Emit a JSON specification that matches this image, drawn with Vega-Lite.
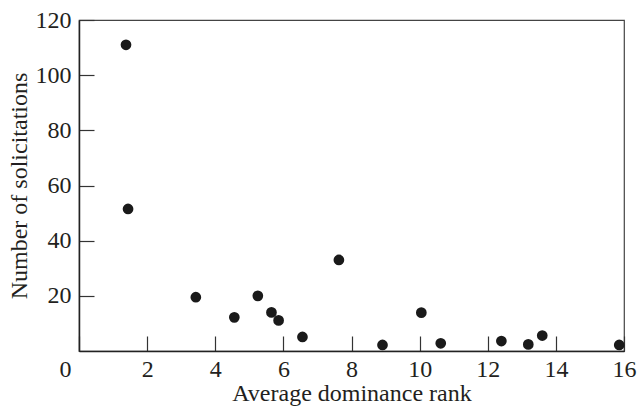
{
  "$schema": "https://vega.github.io/schema/vega-lite/v6.json",
  "autosize": "none",
  "padding": {"left": 79, "top": 20, "right": 14, "bottom": 58},
  "width": 545,
  "height": 331,
  "background": "white",
  "config": {
    "view": {"stroke": "#444", "strokeWidth": 1.2},
    "font": "Liberation Serif"
  },
  "data": {
    "values": [
      {"rank": 1.38, "solicitations": 111},
      {"rank": 1.44, "solicitations": 51.5},
      {"rank": 3.43, "solicitations": 19.5},
      {"rank": 4.56, "solicitations": 12.2},
      {"rank": 5.25, "solicitations": 20.0},
      {"rank": 5.65, "solicitations": 14.0},
      {"rank": 5.86, "solicitations": 11.1},
      {"rank": 6.56, "solicitations": 5.1},
      {"rank": 7.63, "solicitations": 33.0},
      {"rank": 8.91, "solicitations": 2.2},
      {"rank": 10.05, "solicitations": 13.9},
      {"rank": 10.62, "solicitations": 2.8},
      {"rank": 12.4, "solicitations": 3.6},
      {"rank": 13.19, "solicitations": 2.4},
      {"rank": 13.6, "solicitations": 5.6},
      {"rank": 15.86, "solicitations": 2.2}
    ]
  },
  "mark": {"type": "point", "filled": true, "shape": "circle", "size": 115, "color": "#1a1a1a", "opacity": 1},
  "encoding": {
    "x": {
      "field": "rank",
      "type": "quantitative",
      "scale": {"domain": [0, 16], "nice": false, "zero": false},
      "axis": {
        "title": "Average dominance rank",
        "values": [0, 2, 4, 6, 8, 10, 12, 14, 16],
        "grid": false,
        "domainColor": "#222",
        "domainWidth": 1.5,
        "tickColor": "#333",
        "tickWidth": 1.2,
        "tickSize": -15,
        "labelFlush": false,
        "labelPadding": 21,
        "labelFontSize": 24,
        "labelColor": "#231f20",
        "labelOffset": {"condition": {"test": "datum.value == 0", "value": -14}, "value": 0},
        "titleFontSize": 24,
        "titleFontWeight": "normal",
        "titleColor": "#231f20",
        "titlePadding": 0
      }
    },
    "y": {
      "field": "solicitations",
      "type": "quantitative",
      "scale": {"domain": [0, 120], "nice": false, "zero": false},
      "axis": {
        "title": "Number of solicitations",
        "values": [20, 40, 60, 80, 100, 120],
        "grid": false,
        "domainColor": "#222",
        "domainWidth": 1.5,
        "tickColor": "#333",
        "tickWidth": 1.2,
        "tickSize": -15,
        "labelFlush": false,
        "labelPadding": 23,
        "labelFontSize": 24,
        "labelColor": "#231f20",
        "titleFontSize": 24,
        "titleFontWeight": "normal",
        "titleColor": "#231f20",
        "titlePadding": 4
      }
    }
  }
}
